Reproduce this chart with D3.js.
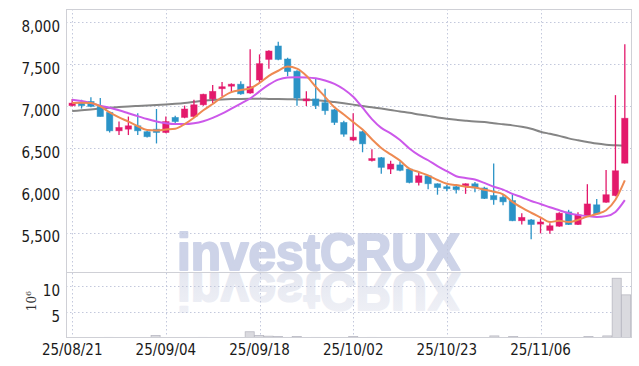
<!DOCTYPE html>
<html>
<head>
<meta charset="utf-8">
<script src="https://cdn.jsdelivr.net/npm/d3@7"></script>
<style>
  html, body { margin: 0; padding: 0; background: #fff; }
  svg { display: block; font-family: "Liberation Sans Narrow", "DejaVu Sans Condensed", sans-serif; }
</style>
</head>
<body>
<svg id="chart" width="639" height="366"></svg>
<script>
// daily candles, 25/08/21 .. 25/11/19 (60 trading days)
const opens  = [7010,7040,7060,7000,6930,6710,6730,6770,6700,6730, 6690,6870,6870,6880,7020,7090,7215,7245,7265,7160,
                7315,7560,7720,7565,7420,7070,7090,7045,6960,6810, 6600,6700,6360,6390,6255,6305,6255,6095,6175,6080,
                6045,6045,6057,6080,6030,5940,5920,5880,5640,5650, 5600,5525,5575,5745,5595,5695,5830,5860,5940,6325];
const highs  = [7090,7080,7110,7100,6940,6820,6880,6920,6710,6970, 6880,6890,7010,7080,7150,7255,7290,7275,7300,7680,
                7620,7670,7770,7580,7430,7180,7335,7210,6970,6830, 6920,6710,6490,6400,6355,6345,6265,6210,6185,6085,
                6065,6075,6085,6100,6045,6320,5950,5955,5730,5660, 5670,5610,5740,5770,5740,6075,5900,6245,7135,7740];
const lows   = [7000,6975,6990,6880,6690,6660,6660,6660,6630,6560, 6680,6800,6860,6870,7010,7040,7120,7160,7140,7150,
                7280,7450,7550,7360,7010,7005,6970,6900,6780,6640, 6590,6455,6345,6200,6195,6230,6085,6060,6015,5950,
                5990,5965,5960,5980,5900,5830,5825,5635,5595,5420, 5490,5485,5570,5590,5590,5690,5715,5855,5930,6320];
const closes = [7040,7010,7000,6880,6710,6750,6770,6710,6640,6690, 6820,6820,6970,7020,7145,7180,7235,7265,7150,7235,
                7510,7660,7560,7415,7100,7090,7010,6950,6810,6670, 6635,6555,6380,6275,6315,6240,6095,6175,6080,6035,
                6025,6010,6080,6030,5905,5890,5865,5640,5680,5595, 5625,5580,5730,5595,5710,5840,5720,5950,6235,6860];
// volume in millions of shares
const volumes = [0.08,0.06,0.07,0.1,0.12,0.08,0.07,0.08,0.06,0.5, 0.1,0.06,0.08,0.1,0.12,0.1,0.08,0.07,0.1,1.2,
                 0.5,0.35,0.3,0.12,0.3,0.1,0.12,0.08,0.1,0.08, 0.3,0.1,0.12,0.08,0.07,0.06,0.08,0.06,0.07,0.05,
                 0.06,0.05,0.06,0.07,0.1,0.4,0.08,0.3,0.1,0.12, 0.08,0.07,0.1,0.08,0.07,0.3,0.1,0.4,11.5,8.3];

// moving averages as drawn
const ma5   = [7040,7045,7040,7000,6930,6870,6820,6765,6720,6715, 6725,6735,6790,6865,6955,7030,7110,7170,7195,7215,
               7280,7365,7425,7475,7450,7365,7235,7115,6990,6905, 6815,6725,6610,6505,6430,6355,6260,6220,6180,6125,
               6080,6065,6045,6035,6010,5985,5955,5865,5795,5735, 5680,5625,5640,5625,5650,5690,5720,5765,5890,6120];
const ma20  = [7080,7065,7040,7010,6985,6955,6920,6885,6850,6820, 6800,6790,6790,6800,6825,6865,6915,6975,7035,7095,
               7180,7260,7320,7345,7348,7345,7335,7310,7270,7205, 7115,6985,6850,6745,6680,6600,6500,6420,6360,6290,
               6230,6170,6150,6130,6090,6045,6010,5960,5920,5875, 5840,5800,5765,5730,5710,5695,5685,5695,5745,5885];
const ma120 = [6945,6955,6965,6975,6985,6993,7000,7006,7012,7018, 7024,7032,7042,7055,7068,7078,7084,7088,7090,7091,
               7091,7090,7089,7087,7084,7080,7075,7065,7052,7038, 7022,7005,6990,6975,6958,6940,6925,6905,6888,6870,
               6855,6842,6830,6820,6815,6800,6788,6775,6758,6735, 6700,6675,6650,6620,6598,6578,6558,6545,6538,6532];

const tickIndex  = [0, 10, 20, 30, 40, 50];
const tickLabels = ["25/08/21", "25/09/04", "25/09/18", "25/10/02", "25/10/23", "25/11/06"];
const priceTicks = [5500, 6000, 6500, 7000, 7500, 8000];
const volTicks   = [5, 10];

const UP = "#e3196b", DOWN = "#2b93c7";

const svg = d3.select("#chart");
const pLeft = 66, pRight = 631, pTop = 9, mainBottom = 272, volBottom = 337;

const idx = d3.range(closes.length);
const x = d3.scaleBand().domain(idx).range([pLeft, pRight]).padding(0.32);
const xv = d3.scaleBand().domain(idx).range([pLeft, pRight]).padding(0.04);
const cx = i => x(i) + x.bandwidth() / 2;
const y = d3.scaleLinear().domain([5030, 8160]).range([mainBottom, pTop]);
const yv = d3.scaleLinear().domain([0, 12.7]).range([338, mainBottom]);

const defs = svg.append("defs");
defs.append("clipPath").attr("id", "clipMain")
  .append("rect").attr("x", pLeft).attr("y", pTop).attr("width", pRight - pLeft).attr("height", mainBottom - pTop);
defs.append("clipPath").attr("id", "clipVol")
  .append("rect").attr("x", pLeft).attr("y", mainBottom + 1).attr("width", pRight - pLeft).attr("height", volBottom - mainBottom - 1);
const fade = defs.append("linearGradient").attr("id", "fade").attr("x1", 0).attr("y1", 0).attr("x2", 0).attr("y2", 1);
fade.append("stop").attr("offset", "0%").attr("stop-color", "#f1f2f7");
fade.append("stop").attr("offset", "100%").attr("stop-color", "#e2e5ef");

// watermark + reflection
const wm = svg.append("g").attr("font-family", "'Liberation Sans', Arial, sans-serif")
  .attr("font-weight", "bold").attr("font-size", 52);
wm.append("text").attr("x", 177).attr("y", 270)
  .attr("textLength", 283).attr("lengthAdjust", "spacingAndGlyphs")
  .attr("fill", "#cdd3e8").attr("stroke", "#cdd3e8").attr("stroke-width", 2.2)
  .attr("stroke-linejoin", "round").text("investCRUX");
wm.append("g").attr("clip-path", "url(#clipVol)")
  .append("text").attr("x", 177).attr("y", 270)
  .attr("transform", `translate(0,${2 * mainBottom}) scale(1,-1)`)
  .attr("textLength", 283).attr("lengthAdjust", "spacingAndGlyphs")
  .attr("fill", "url(#fade)").attr("stroke", "url(#fade)").attr("stroke-width", 2.2)
  .attr("stroke-linejoin", "round").text("investCRUX");

// grid
const grid = svg.append("g").attr("stroke", "#c3c8dc").attr("stroke-dasharray", "1.5,2.5").attr("stroke-width", 1);
grid.selectAll("line.h").data(priceTicks).join("line")
  .attr("x1", pLeft).attr("x2", pRight).attr("y1", d => Math.round(y(d)) + 0.5).attr("y2", d => Math.round(y(d)) + 0.5);
grid.selectAll("line.v").data(volTicks).join("line")
  .attr("x1", pLeft).attr("x2", pRight).attr("y1", d => Math.round(yv(d)) + 0.5).attr("y2", d => Math.round(yv(d)) + 0.5);
grid.selectAll("line.t").data(tickIndex).join("line")
  .attr("x1", d => Math.round(cx(d)) + 0.5).attr("x2", d => Math.round(cx(d)) + 0.5)
  .attr("y1", pTop).attr("y2", volBottom);

// frame
const frame = svg.append("g").attr("stroke", "#cfd0d6").attr("fill", "none");
frame.append("rect").attr("x", pLeft + 0.5).attr("y", pTop + 0.5)
  .attr("width", pRight - pLeft).attr("height", volBottom - pTop);
frame.append("line").attr("x1", pLeft).attr("x2", pRight).attr("y1", mainBottom + 0.5).attr("y2", mainBottom + 0.5);

// volume bars
svg.append("g").attr("clip-path", "url(#clipVol)")
  .selectAll("rect").data(volumes).join("rect")
  .attr("x", (d, i) => xv(i)).attr("width", xv.bandwidth())
  .attr("y", d => yv(d)).attr("height", d => yv(0) - yv(d))
  .attr("fill", "#dadadf").attr("stroke", "#b9b9c2").attr("stroke-width", 0.8);

const plot = svg.append("g").attr("clip-path", "url(#clipMain)");

// moving averages
const line = d3.line().x((d, i) => cx(i)).y(d => y(d)).curve(d3.curveMonotoneX);
plot.append("path").datum(ma120).attr("d", line).attr("fill", "none").attr("stroke", "#858585").attr("stroke-width", 2);

// candles
const candle = plot.append("g").selectAll("g").data(idx).join("g")
  .attr("fill", i => closes[i] >= opens[i] ? UP : DOWN)
  .attr("stroke", i => closes[i] >= opens[i] ? UP : DOWN);
candle.append("line")
  .attr("x1", i => cx(i)).attr("x2", i => cx(i))
  .attr("y1", i => y(highs[i])).attr("y2", i => y(lows[i]))
  .attr("stroke-width", 1.3);
candle.append("rect")
  .attr("x", i => x(i)).attr("width", x.bandwidth())
  .attr("y", i => y(Math.max(opens[i], closes[i])))
  .attr("height", i => Math.max(2, Math.abs(y(opens[i]) - y(closes[i]))))
  .attr("stroke-width", 0.8).attr("stroke-opacity", 0.55);

plot.append("path").datum(ma20).attr("d", line).attr("fill", "none").attr("stroke", "#cc58ea").attr("stroke-width", 2);
plot.append("path").datum(ma5).attr("d", line).attr("fill", "none").attr("stroke", "#ee8a52").attr("stroke-width", 2);

// axes
const yAxis = svg.append("g").attr("transform", `translate(${pLeft - 6},0)`)
  .call(d3.axisLeft(y).tickValues(priceTicks).tickFormat(d3.format(",")).tickSize(0));
const vAxis = svg.append("g").attr("transform", `translate(${pLeft - 6},0)`)
  .call(d3.axisLeft(yv).tickValues(volTicks).tickSize(0));
const xAxis = svg.append("g").attr("transform", `translate(0,${volBottom})`)
  .call(d3.axisBottom(x).tickValues(tickIndex).tickFormat((d, i) => tickLabels[i]).tickSize(0));

[yAxis, vAxis, xAxis].forEach(a => {
  a.select(".domain").remove();
  a.selectAll("text").attr("font-family", "'Liberation Sans Narrow', 'DejaVu Sans Condensed', sans-serif")
    .attr("font-size", 15).attr("fill", "#1a1a1a");
});
yAxis.selectAll("text").attr("dy", "0.62em").attr("x", 0);
vAxis.selectAll("text").attr("dy", "0.62em").attr("x", 0);
xAxis.selectAll("text").attr("dy", "0.9em").attr("y", 4);

// unit label
const unit = svg.append("text").attr("transform", "translate(36,301) rotate(-90)")
  .attr("text-anchor", "middle").attr("font-family", "'DejaVu Serif', serif")
  .attr("font-size", 12).attr("fill", "#333");
unit.append("tspan").text("10");
unit.append("tspan").attr("dy", -5).attr("font-size", 8).text("6");
</script>
</body>
</html>
